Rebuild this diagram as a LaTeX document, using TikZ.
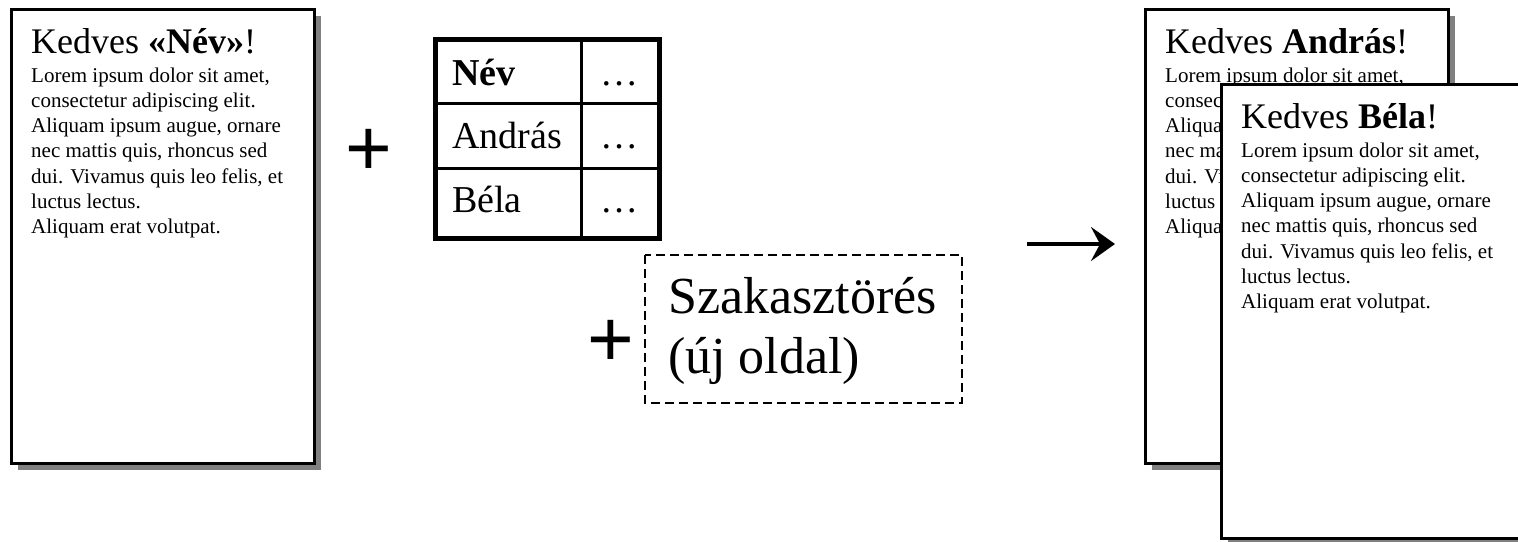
\documentclass[tikz,border=0pt]{standalone}
\usepackage{fontspec}
\setmainfont{Liberation Serif}
\newfontfamily\plusfont{Liberation Sans}
\usetikzlibrary{arrows.meta}
\newcommand\titlesize{\fontsize{36}{40}\selectfont}
\newcommand\bodyblock{\vtop{\fontsize{21}{25.3}\selectfont
  \hbox{Lorem ipsum dolor sit amet,}
  \hbox{consectetur adipiscing elit.}
  \hbox{Aliquam ipsum augue, ornare}
  \hbox{nec mattis quis, rhoncus sed}
  \hbox{dui. Vivamus quis leo felis, et}
  \hbox{luctus lectus.}
  \hbox{Aliquam erat volutpat.}}}
\tikzset{
  pageshadow/.style={fill=black!50, draw=none},
  pagebox/.style={fill=white, draw=black, line width=3pt},
  txt/.style={inner sep=0pt, anchor=base west},
  plussign/.style={inner sep=0pt, anchor=base, font=\plusfont\fontsize{80}{80}\selectfont},
  tabouter/.style={line width=5pt},
  tabinner/.style={line width=2.5pt},
  celltxt/.style={inner sep=0pt, anchor=base west, font=\fontsize{38}{42}\selectfont},
  dotstxt/.style={inner sep=0pt, anchor=base, font=\fontsize{38}{42}\selectfont},
  breakbox/.style={draw, line width=2.5pt, dash pattern=on 9pt off 5pt},
  bigtxt/.style={inner sep=0pt, anchor=base west, font=\fontsize{52}{60}\selectfont},
}
\begin{document}
\begin{tikzpicture}[x=1pt, y=-1pt]
\useasboundingbox (0,0) rectangle (1518,541);
% left template page
\fill[pageshadow] (18,16) rectangle (321,470);
\draw[pagebox] (11,9) rectangle (314,463);
\node[txt] (t1) at (31,53) {\titlesize Kedves \textbf{«Név»}!};
\node[txt] (b1) at (31,82) {\bodyblock};
% plus 1
\node[plussign] (p1) at (369,175) {+};
% table
\draw[tabinner] (581.5,39.5) -- (581.5,238);
\draw[tabinner] (435,103.5) -- (659.5,103.5);
\draw[tabinner] (435,168.5) -- (659.5,168.5);
\draw[tabouter] (435,39.5) rectangle (659.5,238);
\node[celltxt] (c11) at (452,85) {\textbf{Név}};
\node[celltxt] (c21) at (452,148) {András};
\node[celltxt] (c31) at (452,212) {Béla};
\node[dotstxt] (c12) at (619,85) {…};
\node[dotstxt] (c22) at (619,148) {…};
\node[dotstxt] (c32) at (619,212) {…};
% plus 2 and section break
\node[plussign] (p2) at (611,366) {+};
\draw[breakbox] (645,255) rectangle (962,403);
\node[bigtxt] (sz1) at (668,313) {Szakasztörés};
\node[bigtxt] (sz2) at (668,373) {(új oldal)};
% arrow
\coordinate (as) at (1027,244);
\coordinate (ae) at (1115,244);
\draw[line width=4pt, -{Stealth[length=24pt, width=34pt, inset=9pt]}] (as) -- (ae);
% page A
\fill[pageshadow] (1152,16) rectangle (1455,470);
\draw[pagebox] (1145,9) rectangle (1448,463);
\node[txt] (t2) at (1165,53) {\titlesize Kedves \textbf{András}!};
\node[txt] (b2) at (1165,82) {\bodyblock};
% page B
\fill[pageshadow] (1228,91) rectangle (1531,545);
\draw[pagebox] (1221,84) rectangle (1524,538);
\node[txt] (t3) at (1241,128) {\titlesize Kedves \textbf{Béla}!};
\node[txt] (b3) at (1241,157) {\bodyblock};
\end{tikzpicture}
\end{document}
